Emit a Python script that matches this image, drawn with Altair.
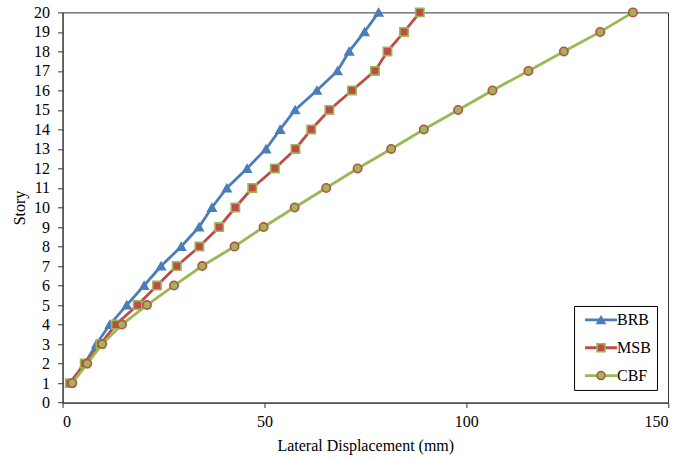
import altair as alt
import pandas as pd

stories = list(range(1, 21))
brb = [1.8, 5.5, 8.4, 11.7, 15.9, 20.2, 24.4, 29.4, 33.8, 37.0,
       40.7, 45.7, 50.4, 53.9, 57.6, 63.0, 68.1, 71.0, 74.8, 78.3]
msb = [1.8, 5.5, 9.4, 13.2, 18.6, 23.4, 28.3, 33.9, 38.8, 42.8,
       47.0, 52.6, 57.7, 61.6, 66.1, 71.7, 77.4, 80.5, 84.6, 88.5]
cbf = [2.4, 6.1, 9.8, 14.7, 20.9, 27.6, 34.6, 42.6, 49.8, 57.5,
       65.3, 73.1, 81.4, 89.5, 98.0, 106.5, 115.4, 124.2, 133.2, 141.3]
series = ["BRB", "MSB", "CBF"]
line_colors = ["#4A7EBB", "#BE4B48", "#98B954"]
fill_colors = ["#4A7EBB", "#BE4B48", "#98B954"]
edge_colors = ["#4A7EBB", "#98B954", "#BE4B48"]
shapes = ["triangle-up", "square", "circle"]

rows = []
for name, vals in zip(series, [brb, msb, cbf]):
    for s, v in zip(stories, vals):
        rows.append({"series": name, "marker": name + " ", "story": s, "disp": v})
df = pd.DataFrame(rows)
markers = [s + " " for s in series]

FONT = "Liberation Serif"
LX, LY = 511.7, 293.7

x = alt.X("disp:Q", title="Lateral Displacement (mm)",
          scale=alt.Scale(domain=[0, 150], nice=False),
          axis=alt.Axis(values=[0, 50, 100, 150], grid=False, tickSize=5,
                        labelPadding=6, titlePadding=8))
y = alt.Y("story:Q", title="Story",
          scale=alt.Scale(domain=[0, 20], nice=False),
          axis=alt.Axis(values=list(range(0, 21)), grid=False, tickSize=5,
                        labelPadding=8, titlePadding=6))

lines = alt.Chart(df).mark_line(strokeWidth=2.8).encode(
    x=x, y=y,
    detail="series:N",
    order="story:Q",
    color=alt.Color("series:N", scale=alt.Scale(domain=series, range=line_colors),
                    legend=alt.Legend(title=None, orient="none", legendX=LX, legendY=LY,
                                      symbolType="M-4,0H4", symbolSize=64,
                                      symbolStrokeWidth=2.8, padding=6, symbolOffset=13,
                                      labelOffset=8, rowPadding=11.8,
                                      strokeColor="black", fillColor="white",
                                      labelFont=FONT, labelFontSize=16,
                                      labelColor="black", zindex=1)),
)

pt_legend = alt.Legend(title=None, orient="none", legendX=LX, legendY=LY,
                       symbolSize=64, symbolStrokeWidth=1.6,
                       padding=6, symbolOffset=13, labelOffset=8,
                       rowPadding=11.8, labelOpacity=0,
                       labelFont=FONT, labelFontSize=16, zindex=2)

pts = alt.Chart(df).mark_point(filled=True, opacity=1, strokeWidth=1.6, size=70).encode(
    x=x, y=y,
    fill=alt.Fill("marker:N", scale=alt.Scale(domain=markers, range=fill_colors), legend=pt_legend),
    stroke=alt.Stroke("marker:N", scale=alt.Scale(domain=markers, range=edge_colors), legend=pt_legend),
    shape=alt.Shape("marker:N", scale=alt.Scale(domain=markers, range=shapes), legend=pt_legend),
)

chart = alt.layer(lines, pts).resolve_scale(
    color="independent", fill="independent", stroke="independent", shape="independent"
).properties(
    width=605.7, height=390.4,
    autosize=alt.AutoSizeParams(type="none"),
    padding={"left": 62.6, "top": 12.3, "right": 15, "bottom": 56},
    background="white",
).configure_view(
    stroke="#333333", strokeWidth=1
).configure_axis(
    labelFont=FONT, titleFont=FONT, labelFontSize=16, titleFontSize=16,
    titleFontWeight="normal", labelColor="black", titleColor="black",
    domainColor="#333333", tickColor="#333333"
)

chart.save("out.html", embed_options={"renderer": "svg", "actions": False})
